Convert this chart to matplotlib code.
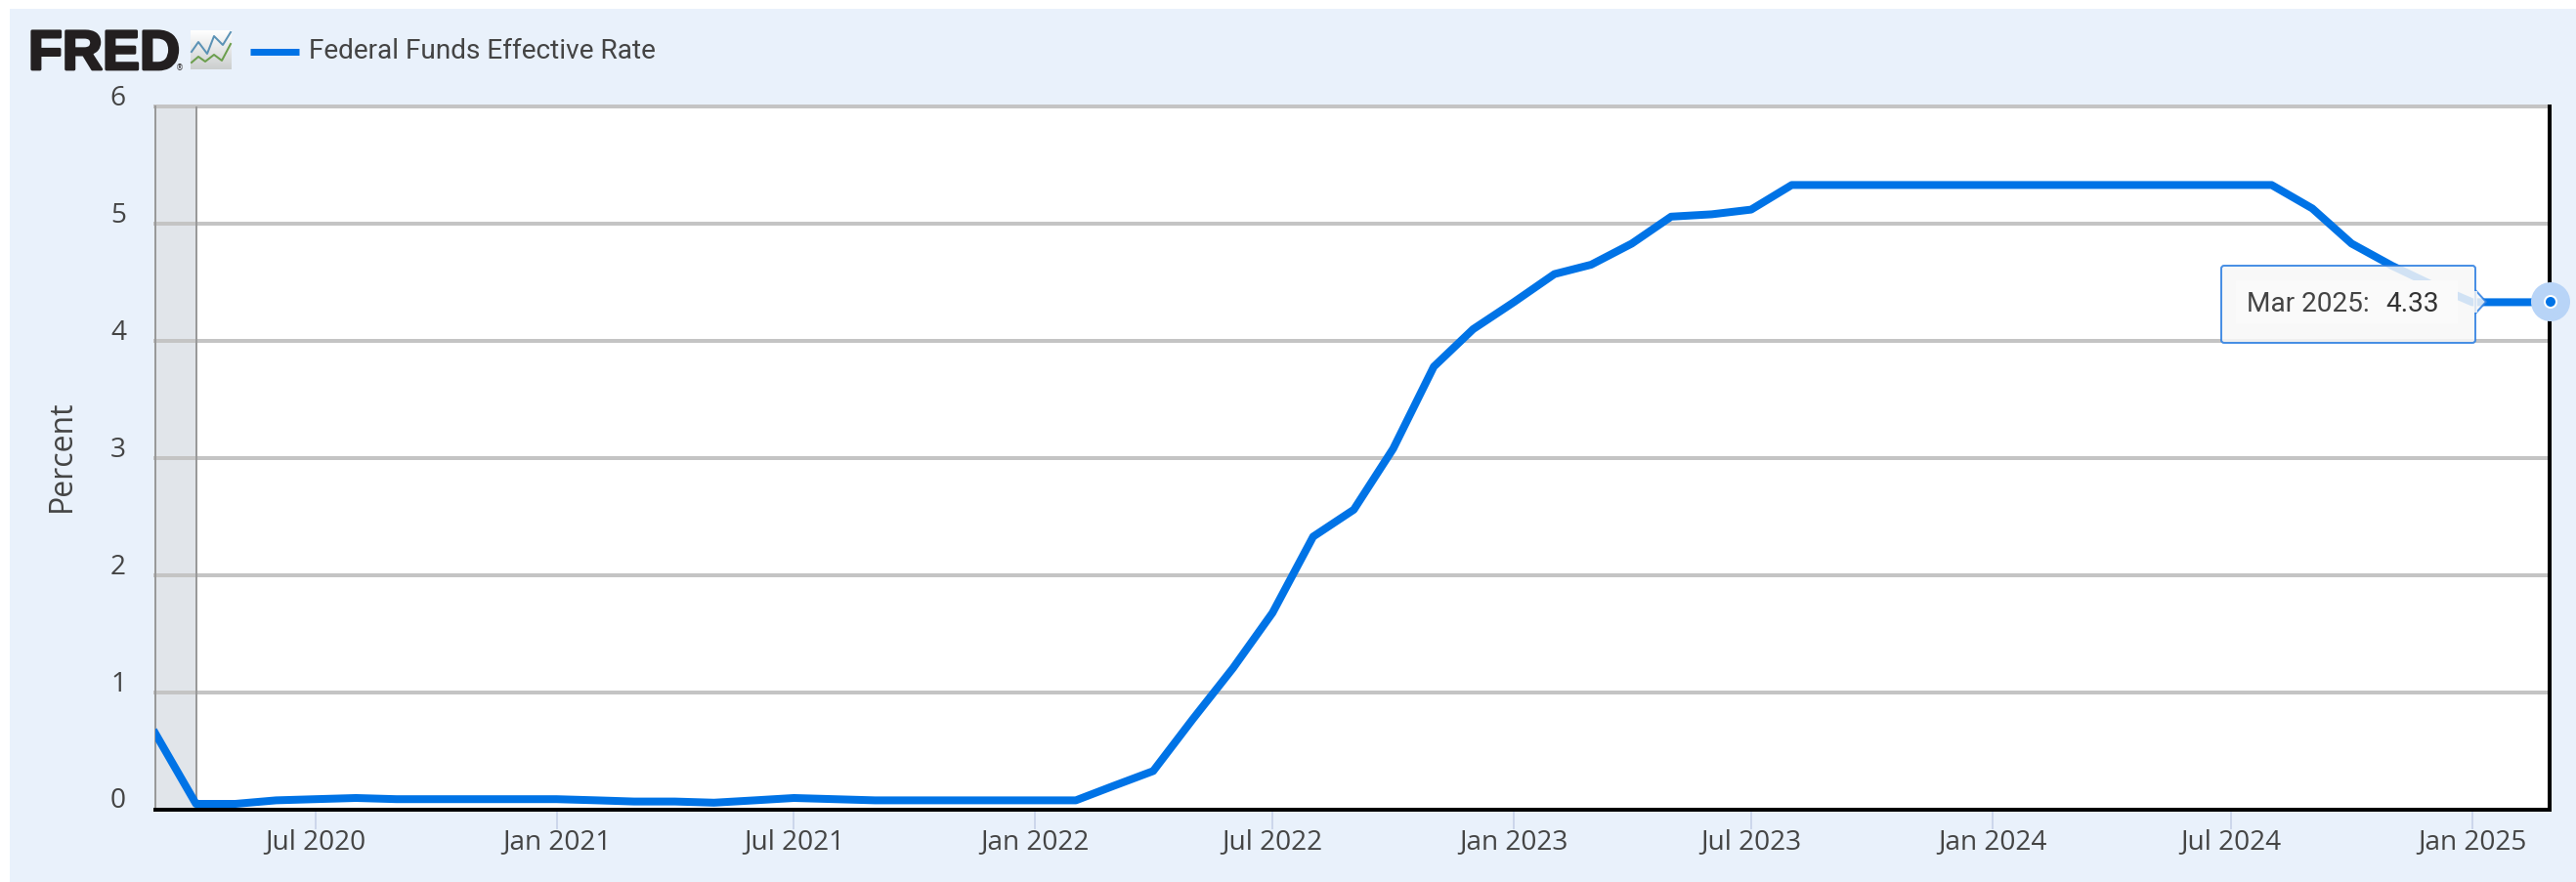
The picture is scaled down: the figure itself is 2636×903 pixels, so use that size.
import matplotlib
matplotlib.use('Agg')
import matplotlib.pyplot as plt
import matplotlib.patheffects as pe
import numpy as np
import pandas as pd
from matplotlib.patches import Rectangle, FancyBboxPatch, Polygon, Circle
from matplotlib.transforms import ScaledTranslation

W, H = 2636, 904

dates = pd.date_range('2020-03-01', '2025-03-01', freq='MS')
rate = [0.65, 0.05, 0.05, 0.08, 0.09, 0.10, 0.09, 0.09, 0.09, 0.09,
        0.09, 0.08, 0.07, 0.07, 0.06, 0.08, 0.10, 0.09, 0.08, 0.08, 0.08, 0.08,
        0.08, 0.08, 0.20, 0.33, 0.77, 1.21, 1.68, 2.33, 2.56, 3.08, 3.78, 4.10,
        4.33, 4.57, 4.65, 4.83, 5.06, 5.08, 5.12, 5.33, 5.33, 5.33, 5.33, 5.33,
        5.33, 5.33, 5.33, 5.33, 5.33, 5.33, 5.33, 5.33, 5.13, 4.83, 4.64, 4.48,
        4.33, 4.33, 4.33]

x_tick_dates = pd.to_datetime(['2020-07-01', '2021-01-01', '2021-07-01', '2022-01-01', '2022-07-01',
                               '2023-01-01', '2023-07-01', '2024-01-01', '2024-07-01', '2025-01-01'])
x_tick_labels = ['Jul 2020', 'Jan 2021', 'Jul 2021', 'Jan 2022', 'Jul 2022',
                 'Jan 2023', 'Jul 2023', 'Jan 2024', 'Jul 2024', 'Jan 2025']
y_ticks = [0, 1, 2, 3, 4, 5, 6]
recession = pd.to_datetime(['2020-03-01', '2020-04-01'])

BLUE = '#0073e6'
TEXT = '#444444'
GRID = '#c4c4c4'
px = 72 / 100  # one pixel in points

fig = plt.figure(figsize=(W / 100, H / 100), dpi=100, facecolor='white')
fig.add_artist(Rectangle((10 / W, 0), 1, 1 - 10 / H, transform=fig.transFigure,
                         facecolor='#e9f1fb', edgecolor='none', zorder=-1))

ax = fig.add_axes([159 / W, (H - 830) / H, (2609 - 159) / W, 720 / H], facecolor='white')
ax.axvspan(recession[0], recession[1], facecolor='#e1e5ea', edgecolor='none', zorder=0)
ax.axvline(recession[1], color='#999999', lw=2 * px, zorder=1)
ax.plot(dates, rate, color=BLUE, lw=8 * px, solid_joinstyle='round', zorder=3)
ax.set_xlim(dates[0], dates[-1])
ax.set_ylim(0, 6)

ax.yaxis.grid(True, color=GRID, lw=4 * px, zorder=1)
ax.set_axisbelow(True)
for g in ax.get_ygridlines():
    g.set_clip_on(False)

ax.spines['top'].set_visible(False)
ax.spines['left'].set_color('#999999')
ax.spines['left'].set_linewidth(2 * px)
ax.spines['bottom'].set_color('black')
ax.spines['bottom'].set_linewidth(4 * px)
ax.spines['right'].set_color('black')
ax.spines['right'].set_linewidth(4 * px)
ax.spines['bottom'].set_zorder(4)
ax.spines['right'].set_zorder(4)

ax.set_xticks(x_tick_dates)
ax.set_xticklabels(x_tick_labels, fontfamily='Open Sans', fontsize=28 * px, color=TEXT)
ax.tick_params(axis='x', length=20 * px, width=2 * px, color='#ccd6eb', pad=-1)
ax.set_yticks(y_ticks)
ax.set_yticklabels([str(v) for v in y_ticks], fontfamily='Open Sans', fontsize=28 * px, color=TEXT)
ax.tick_params(axis='y', length=0, pad=30 * px)
shift = ScaledTranslation(0, 13 / 100, fig.dpi_scale_trans)
for lab in ax.get_yticklabels():
    lab.set_transform(lab.get_transform() + shift)
ax.set_ylabel('Percent', fontfamily='Open Sans', fontsize=32 * px, color=TEXT, va='center')
ax.yaxis.set_label_coords(63 / W, 1 - 467 / H, transform=fig.transFigure)

# overlay in pixel coordinates for the header, logo and tooltip
ov = fig.add_axes([0, 0, 1, 1], facecolor='none', zorder=5)
ov.axis('off')

ov.text(29, 72, 'FRED', family='Liberation Sans', fontweight='bold', fontsize=57 * px, color='#231f20',
        va='baseline', ha='left', path_effects=[pe.withStroke(linewidth=2, foreground='#231f20')])
ov.text(184, 72, '®', family='DejaVu Sans', fontsize=8 * px, color='#231f20', va='baseline', ha='center')

gradient = np.linspace(0, 1, 40).reshape(-1, 1)
icon = np.array([[1.0, 1.0, 1.0]]) * (1 - gradient) + np.array([[0.80, 0.81, 0.81]]) * gradient
ov.imshow(icon[:, None, :], extent=(195, 237, 72, 32), aspect='auto', zorder=1)
ov.plot([196, 203, 212, 219, 228, 236], [54, 44, 56, 38, 47, 34], color='#5b92b5', lw=2 * px, zorder=2)
ov.plot([196, 203, 210, 219, 227, 236], [65, 59, 64, 57, 63, 46], color='#6b9e4c', lw=2 * px, zorder=2)

ov.plot([256, 306], [54, 54], color=BLUE, lw=7 * px, solid_capstyle='butt')
ov.text(316, 53, 'Federal Funds Effective Rate', family='Roboto', fontsize=28 * px, color=TEXT,
        va='center', ha='left')

# tooltip
tip_x, tip_y = 2544, 310
ov.add_patch(Polygon([(2533, 298), (tip_x, tip_y), (2533, 322)], closed=True, facecolor='#f7f7f7',
                     edgecolor='#2a7de1', lw=2 * px, alpha=0.85, zorder=3))
ov.add_patch(FancyBboxPatch((2273, 273), 260, 79, boxstyle='round,pad=0,rounding_size=3',
                            facecolor='#f7f7f7', edgecolor='#2a7de1', lw=2 * px, alpha=0.85, zorder=3))
ov.add_patch(Rectangle((2531, 299), 4, 22, facecolor='#f7f7f7', edgecolor='none', alpha=0.85, zorder=3))
ov.add_patch(Rectangle((2288, 288), 227, 44, facecolor='#fafafa', edgecolor='none', zorder=4))
ov.text(2299, 312, 'Mar 2025:', family='Roboto', fontsize=28 * px, color=TEXT, va='center', ha='left', zorder=5)
ov.text(2441, 312, '4.33', family='Roboto', fontsize=28 * px, color='#333333', va='center', ha='left', zorder=5)

# hover marker on the last point
ov.add_patch(Circle((2610, 310), 20, facecolor='#b8d4f7', edgecolor='none', zorder=2))
ov.add_patch(Circle((2610, 310), 6, facecolor=BLUE, edgecolor='white', lw=2 * px, zorder=3))

ov.set_xlim(0, W)
ov.set_ylim(H, 0)

fig.savefig('out.png', dpi=100, facecolor=fig.get_facecolor())
